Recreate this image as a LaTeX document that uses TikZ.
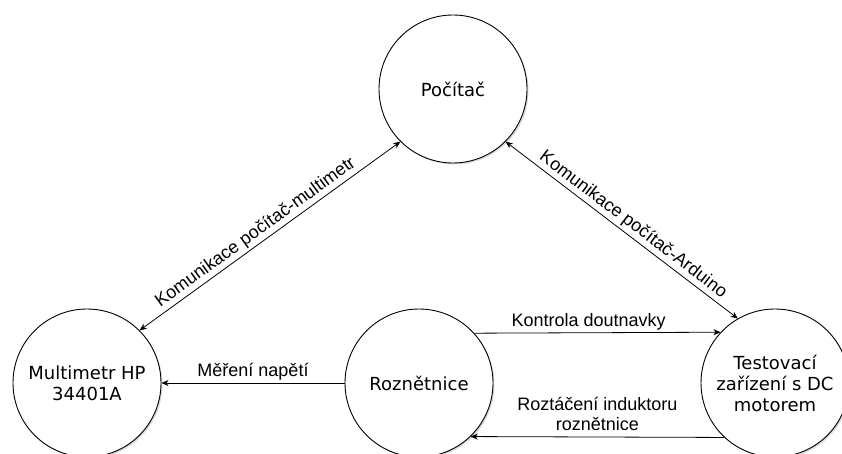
\documentclass[tikz,border=0pt]{standalone}
\usepackage{fontspec}
\setmainfont{DejaVu Sans}
\newfontfamily\lblfont{Liberation Sans}
\usetikzlibrary{arrows.meta,shadows}

\begin{document}
\begin{tikzpicture}[x=1pt,y=-1pt,
  >={Stealth[length=7pt,width=6pt,inset=2pt]},
  unit/.style={circle, draw, line width=0.9pt, fill=white, minimum size=148pt,
    inner sep=0pt, align=center, font=\fontsize{18}{21}\selectfont,
    drop shadow={shadow xshift=1.5pt, shadow yshift=-1.5pt, opacity=0.3}},
  link/.style={line width=0.8pt},
  lbl/.style={font=\lblfont\fontsize{18}{20}\selectfont, anchor=south,
    inner xsep=0pt, inner ysep=6pt, text depth=0pt, align=center}
]
\clip (0,0) rectangle (842,454);

% system blocks
\node[unit] (pc) at (453,89)  {Počítač};
\node[unit] (mm) at (87,383)  {Multimetr HP\\34401A};
\node[unit] (rz) at (419,383) {Roznětnice};
\node[unit] (td) at (775,383) {Testovací\\zařízení s DC\\motorem};

% communication and signal paths
\draw[link,<->] (mm.45) -- node[lbl, sloped, pos=0.47] {Komunikace počítač-multimetr} (pc.225);
\draw[link,<->] (pc.-45) -- node[lbl, sloped, pos=0.52] {Komunikace počítač-Arduino} (td.120);
\draw[link,->] (rz.42.5) -- node[lbl, pos=0.464] {Kontrola doutnavky} (td.137.5);
\draw[link,->] (td.-133.2) -- node[lbl] {Roztáčení induktoru\\roznětnice} (rz.-46.8);
\draw[link,->] (rz.west) -- node[lbl] {Měření napětí} (mm.east);
\end{tikzpicture}
\end{document}
